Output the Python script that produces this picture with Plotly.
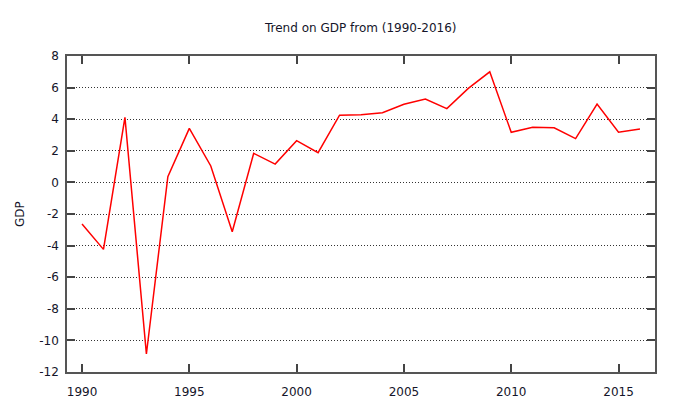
import plotly.graph_objects as go

years = list(range(1990, 2017))
gdp = [-2.63, -4.24, 4.12, -10.86, 0.36, 3.42, 1.04, -3.12, 1.84, 1.16,
       2.64, 1.88, 4.25, 4.28, 4.41, 4.95, 5.28, 4.67, 5.95, 7.0,
       3.17, 3.49, 3.46, 2.77, 4.96, 3.17, 3.38]
x_ticks = [1990, 1995, 2000, 2005, 2010, 2015]
y_ticks = [-12, -10, -8, -6, -4, -2, 0, 2, 4, 6, 8]
y_tick_labels = ["-12", "-10", "-8", "-6", "-4", "-2", "0", "2", "4", "6", "8"]

fig = go.Figure()
fig.add_trace(go.Scatter(x=years, y=gdp, mode="lines",
                         line=dict(color="#ff0000", width=1.5),
                         showlegend=False))

txt = "#15152a"
font = dict(family="DejaVu Sans", size=12, color=txt)
fig.update_layout(
    width=665, height=397,
    margin=dict(l=59, r=18, t=48, b=33, autoexpand=False),
    paper_bgcolor="white", plot_bgcolor="white",
    font=font,
    annotations=[
        dict(text="Trend on GDP from (1990-2016)", xref="paper", yref="paper",
             x=0.5, y=1, xshift=-1, yshift=28, xanchor="center", yanchor="middle",
             showarrow=False, font=font),
        dict(text="GDP", xref="paper", yref="paper", x=0, y=0.5, xshift=-47, yshift=0,
             textangle=-90, xanchor="center", yanchor="middle", showarrow=False, font=font),
    ],
)
fig.update_xaxes(range=[1989.3, 2016.7], tickvals=x_ticks, ticks="inside", ticklen=8,
                 tickcolor="#444", tickwidth=1.5, showline=True, linecolor="#555",
                 linewidth=1.5, mirror="ticks", showgrid=False, zeroline=False,
                 ticklabelstandoff=8, automargin=False)
fig.update_yaxes(range=[-12, 8], tickvals=y_ticks, ticktext=y_tick_labels,
                 ticks="inside", ticklen=8,
                 tickcolor="#444", tickwidth=1.5, showline=True, linecolor="#555",
                 linewidth=1.5, mirror="ticks", showgrid=True, gridcolor="#333",
                 griddash="1px,2px", gridwidth=1, zeroline=False,
                 ticklabelstandoff=4, automargin=False)

fig.write_html("out.html")
